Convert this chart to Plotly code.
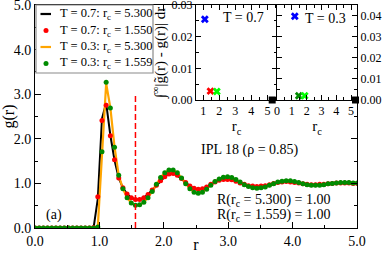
import plotly.graph_objects as go

# ---------------- data ----------------
r = [0.000, 0.065, 0.130, 0.195, 0.260, 0.325, 0.390, 0.455, 0.520, 0.585,
     0.650, 0.715, 0.780, 0.845, 0.910, 0.975, 1.040, 1.105, 1.170, 1.235,
     1.300, 1.365, 1.430, 1.495, 1.560, 1.625, 1.690, 1.755, 1.820, 1.885,
     1.950, 2.015, 2.080, 2.145, 2.210, 2.275, 2.340, 2.405, 2.470, 2.535,
     2.600, 2.665, 2.730, 2.795, 2.860, 2.925, 2.990, 3.055, 3.120, 3.185,
     3.250, 3.315, 3.380, 3.445, 3.510, 3.575, 3.640, 3.705, 3.770, 3.835,
     3.900, 3.965, 4.030, 4.095, 4.160, 4.225, 4.290, 4.355, 4.420, 4.485,
     4.550, 4.615, 4.680, 4.745, 4.810, 4.875, 4.940, 5.005]

# T = 0.7, rc = 5.300 (black line)
g_t07_full = [0, 0, 0, 0, 0, 0, 0, 0, 0, 0,
              0, 0, 0, 0, 0.01, 0.65, 2.45, 2.80, 2.08, 1.52,
              1.12, 0.90, 0.76, 0.68, 0.64, 0.64, 0.68, 0.75, 0.85, 0.96,
              1.06, 1.15, 1.21, 1.22, 1.18, 1.11, 1.02, 0.94, 0.89, 0.87,
              0.88, 0.92, 0.98, 1.03, 1.07, 1.09, 1.09, 1.08, 1.05, 1.01,
              0.98, 0.95, 0.94, 0.93, 0.94, 0.95, 0.97, 1.00, 1.02, 1.03,
              1.04, 1.03, 1.02, 1.01, 0.99, 0.98, 0.97, 0.97, 0.98, 0.98,
              0.99, 1.00, 1.01, 1.01, 1.01, 1.01, 1.00, 1.00]
# T = 0.7, rc = 1.550 (red dots)
g_t07_cut = [0, 0, 0, 0, 0, 0, 0, 0, 0, 0,
             0, 0, 0, 0, 0.01, 0.70, 2.41, 2.75, 2.07, 1.53,
             1.12, 0.90, 0.76, 0.68, 0.64, 0.64, 0.68, 0.75, 0.85, 0.96,
             1.06, 1.15, 1.21, 1.22, 1.18, 1.11, 1.02, 0.94, 0.89, 0.87,
             0.88, 0.92, 0.98, 1.03, 1.07, 1.09, 1.09, 1.08, 1.05, 1.01,
             0.98, 0.95, 0.94, 0.93, 0.94, 0.95, 0.97, 1.00, 1.02, 1.03,
             1.04, 1.03, 1.02, 1.01, 0.99, 0.98, 0.97, 0.97, 0.98, 0.98,
             0.99, 1.00, 1.01, 1.01, 1.01, 1.01, 1.00, 1.00]
# T = 0.3, rc = 5.300 (orange line)
g_t03_full = [0, 0, 0, 0, 0, 0, 0, 0, 0, 0,
              0, 0, 0, 0, 0, 0.02, 1.72, 3.24, 2.70, 1.82,
              1.18, 0.88, 0.68, 0.56, 0.51, 0.52, 0.58, 0.68, 0.82, 0.98,
              1.13, 1.24, 1.30, 1.30, 1.24, 1.12, 0.99, 0.88, 0.80, 0.78,
              0.80, 0.87, 0.96, 1.04, 1.10, 1.14, 1.15, 1.13, 1.09, 1.03,
              0.97, 0.93, 0.90, 0.89, 0.90, 0.92, 0.96, 0.99, 1.03, 1.05,
              1.06, 1.06, 1.04, 1.02, 0.99, 0.97, 0.96, 0.96, 0.96, 0.97,
              0.99, 1.00, 1.01, 1.02, 1.02, 1.02, 1.01, 1.01]
# T = 0.3, rc = 1.559 (green dots)
g_t03_cut = [0, 0, 0, 0, 0, 0, 0, 0, 0, 0,
             0, 0, 0, 0, 0, 0.02, 1.71, 3.27, 2.69, 1.81,
             1.18, 0.88, 0.68, 0.56, 0.51, 0.52, 0.58, 0.68, 0.82, 0.98,
             1.13, 1.24, 1.30, 1.30, 1.24, 1.12, 0.99, 0.88, 0.80, 0.78,
             0.80, 0.87, 0.96, 1.04, 1.10, 1.14, 1.15, 1.13, 1.09, 1.03,
             0.97, 0.93, 0.90, 0.89, 0.90, 0.92, 0.96, 0.99, 1.03, 1.05,
             1.06, 1.06, 1.04, 1.02, 0.99, 0.97, 0.96, 0.96, 0.96, 0.97,
             0.99, 1.00, 1.01, 1.02, 1.02, 1.02, 1.01, 1.01]

rc_marker = 1.56
rc_marker_top = 3.0

# inset data
rc_t07 = [1.1, 1.45, 1.85, 5.3]
dev_t07 = [0.0255, 0.0028, 0.0027, 0.0]
col_t07 = ["#0000ff", "#ff0000", "#00ff00", "#000000"]
sym_t07 = ["x", "x", "x", "square"]

rc_t03 = [1.2, 1.47, 1.87, 5.3]
dev_t03 = [0.0397, 0.0020, 0.0020, 0.0]
col_t03 = ["#0000ff", "#008b00", "#00ff00", "#000000"]
sym_t03 = ["x", "x", "x", "square"]

legend_labels = ["T = 0.7: r<sub>c</sub> = 5.300", "T = 0.7: r<sub>c</sub> = 1.550",
                 "T = 0.3: r<sub>c</sub> = 5.300", "T = 0.3: r<sub>c</sub> = 1.559"]

FONT = "Liberation Serif"
RED = "#ff0000"
GREEN = "#008b00"
ORANGE = "#ffa500"

# ---------------- geometry ----------------
W, H = 382, 253
ML, MR, MT, MB = 35, 25, 5, 25
PW, PH = W - ML - MR, H - MT - MB


def px(xp):
    return (xp - ML) / PW


def py(yp):
    return (H - MB - yp) / PH


fig = go.Figure()

# main traces
fig.add_trace(go.Scatter(x=r, y=g_t07_full, mode="lines",
                         line=dict(color="black", width=2), showlegend=False))
fig.add_trace(go.Scatter(x=r, y=g_t03_full, mode="lines",
                         line=dict(color=ORANGE, width=2.2), showlegend=False))
fig.add_trace(go.Scatter(x=r, y=g_t07_cut, mode="markers",
                         marker=dict(color=RED, size=5), showlegend=False))
fig.add_trace(go.Scatter(x=r, y=g_t03_cut, mode="markers",
                         marker=dict(color=GREEN, size=5), showlegend=False))
fig.add_trace(go.Scatter(x=[rc_marker, rc_marker], y=[0, rc_marker_top], mode="lines",
                         line=dict(color=RED, width=1.5, dash="6px,3px"), showlegend=False))

# inset traces
fig.add_trace(go.Scatter(x=rc_t07, y=dev_t07, mode="markers", xaxis="x2", yaxis="y2",
                         marker=dict(color=col_t07, symbol=sym_t07, size=7,
                                     line=dict(width=0)),
                         cliponaxis=False, showlegend=False))
fig.add_trace(go.Scatter(x=rc_t03, y=dev_t03, mode="markers", xaxis="x3", yaxis="y3",
                         marker=dict(color=col_t03, symbol=sym_t03, size=7,
                                     line=dict(width=0)),
                         cliponaxis=False, showlegend=False))

tickfont = dict(family=FONT, size=14, color="black")
itickfont = dict(family=FONT, size=12, color="black")

axis_common = dict(showline=True, linecolor="black", linewidth=1, mirror="ticks",
                   ticks="inside", tickcolor="black", showgrid=False, zeroline=False,
                   ticklabeloverflow="allow")

inset_x0 = px(196)
inset_xm = px(277)
inset_y0 = py(100)

fig.update_layout(
    width=W, height=H,
    margin=dict(l=ML, r=MR, t=MT, b=MB, autoexpand=False),
    paper_bgcolor="white", plot_bgcolor="white",
    font=dict(family=FONT, color="black"),
    showlegend=False,
    xaxis=dict(axis_common, domain=[0, 1], range=[0, 5], dtick=1, tick0=0,
               tickformat=".1f", ticklen=6, tickfont=tickfont,
               minor=dict(dtick=0.5, ticklen=3, ticks="inside", tickcolor="black"),
               title=dict(text="r", font=dict(family=FONT, size=16), standoff=2)),
    yaxis=dict(axis_common, domain=[0, 1], range=[0, 5], dtick=1, tick0=0,
               tickformat=".1f", ticklen=6, tickfont=tickfont,
               minor=dict(dtick=0.5, ticklen=3, ticks="inside", tickcolor="black"),
               title=dict(text="g(r)", font=dict(family=FONT, size=16), standoff=4)),
    xaxis2=dict(axis_common, domain=[inset_x0, inset_xm], anchor="y2",
                range=[0.55, 5.6], dtick=1, tick0=0, ticklen=5, tickfont=itickfont,
                minor=dict(dtick=0.5, ticklen=3, ticks="inside", tickcolor="black"),
                title=dict(text="r<sub>c</sub>", font=dict(family=FONT, size=15), standoff=0)),
    yaxis2=dict(axis_common, domain=[inset_y0, 1], anchor="x2",
                range=[0, 0.03], dtick=0.01, tick0=0, tickformat=".2f", ticklen=5,
                tickfont=itickfont,
                minor=dict(dtick=0.005, ticklen=3, ticks="inside", tickcolor="black"),
                title=dict(text="∫<sup>∞</sup>|g̃(r) - g(r)| dr",
                           font=dict(family=FONT, size=15), standoff=2)),
    xaxis3=dict(axis_common, domain=[inset_xm, 1], anchor="y3",
                range=[0, 5.4], dtick=1, tick0=0, ticklen=5, tickfont=itickfont,
                minor=dict(dtick=0.5, ticklen=3, ticks="inside", tickcolor="black"),
                title=dict(text="r<sub>c</sub>", font=dict(family=FONT, size=15), standoff=0)),
    yaxis3=dict(axis_common, domain=[inset_y0, 1], anchor="x3", side="right",
                range=[0, 0.045], dtick=0.01, tick0=0, tickformat=".2f", ticklen=5,
                tickfont=itickfont,
                minor=dict(dtick=0.005, ticklen=3, ticks="inside", tickcolor="black")),
)

# white backgrounds behind inset panels (below traces)
shapes = [
    dict(type="rect", xref="paper", yref="paper", x0=inset_x0, x1=1, y0=inset_y0, y1=1,
         fillcolor="white", line=dict(width=0), layer="below"),
]

# legend box (manual, compact like the original)
leg_left, leg_right, leg_top, leg_bottom = 36, 153, 5, 73
shapes.append(dict(type="rect", xref="paper", yref="paper",
                   x0=px(leg_left), x1=px(leg_right), y0=py(leg_bottom), y1=py(leg_top),
                   fillcolor="white", line=dict(color="#8a8a8a", width=1.2), layer="above"))
row_y = [14, 30.5, 47, 63.5]
sample_x0, sample_x1, sample_xc, text_x = 40.5, 51, 46, 58
styles = [("line", "black"), ("dot", RED), ("line", ORANGE), ("dot", GREEN)]
annotations = []
for (kind, col), yy, lab in zip(styles, row_y, legend_labels):
    if kind == "line":
        shapes.append(dict(type="line", xref="paper", yref="paper",
                           x0=px(sample_x0), x1=px(sample_x1), y0=py(yy), y1=py(yy),
                           line=dict(color=col, width=2.2), layer="above"))
    else:
        shapes.append(dict(type="circle", xref="paper", yref="paper",
                           xsizemode="pixel", ysizemode="pixel",
                           xanchor=px(sample_xc), yanchor=py(yy),
                           x0=-2.5, x1=2.5, y0=-2.5, y1=2.5,
                           fillcolor=col, line=dict(color=col, width=0), layer="above"))
    annotations.append(dict(xref="paper", yref="paper", x=px(text_x), y=py(yy),
                            xanchor="left", yanchor="middle", showarrow=False,
                            text=lab, font=dict(family=FONT, size=12.5, color="black")))

annotations += [
    dict(x=3.34, y=1.75, xref="x", yref="y", text="IPL 18 (ρ = 0.85)", showarrow=False,
         font=dict(family=FONT, size=14, color="black")),
    dict(x=3.70, y=0.62, xref="x", yref="y", text="R(r<sub>c</sub> = 5.300) = 1.00",
         showarrow=False, font=dict(family=FONT, size=14, color="black")),
    dict(x=3.70, y=0.29, xref="x", yref="y", text="R(r<sub>c</sub> = 1.559) = 1.00",
         showarrow=False, font=dict(family=FONT, size=14, color="black")),
    dict(x=0.30, y=0.30, xref="x", yref="y", text="(a)", showarrow=False,
         font=dict(family=FONT, size=14, color="black")),
    dict(x=3.50, y=0.0262, xref="x2", yref="y2", text="T = 0.7", showarrow=False,
         font=dict(family=FONT, size=14, color="black")),
    dict(x=3.24, y=0.0388, xref="x3", yref="y3", text="T = 0.3", showarrow=False,
         font=dict(family=FONT, size=14, color="black")),
]

fig.update_layout(shapes=shapes, annotations=annotations)
fig.write_html("out.html", config={"displayModeBar": False},
               post_script="document.body.style.margin='0';document.body.style.padding='0';")
